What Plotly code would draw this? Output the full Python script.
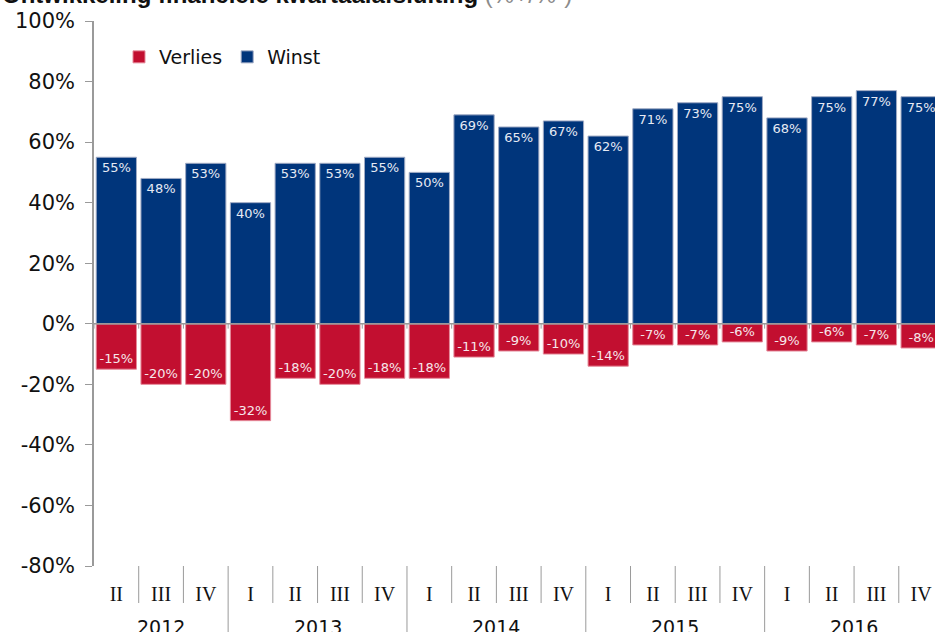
import plotly.graph_objects as go

# Kwartalen 2012 II t/m 2016 IV
years = ["2012"] * 3 + ["2013"] * 4 + ["2014"] * 4 + ["2015"] * 4 + ["2016"] * 4
quarters = ["II", "III", "IV"] + ["I", "II", "III", "IV"] * 4
winst = [55, 48, 53, 40, 53, 53, 55, 50, 69, 65, 67, 62, 71, 73, 75, 68, 75, 77, 75]
verlies = [-15, -20, -20, -32, -18, -20, -18, -18, -11, -9, -10, -14, -7, -7, -6, -9, -6, -7, -8]
y_ticks = [100, 80, 60, 40, 20, 0, -20, -40, -60, -80]

BLUE = "#00357B"
RED = "#C20F30"
GREY = "#9A9A9A"
PLOT_H = 545  # px height of plot area
PLOT_W = 841  # px width of plot area

cats = [f"{q} {y}" for q, y in zip(quarters, years)]

fig = go.Figure()

fig.add_trace(go.Bar(
    x=cats, y=verlies, name="Verlies",
    marker=dict(color=RED, line=dict(color="#E58A9A", width=1)),
    text=[f"{v}%" for v in verlies],
    textposition="inside", insidetextanchor="end", textangle=0,
    textfont=dict(family="DejaVu Sans", size=13, color="#F6E6EA"),
))
fig.add_trace(go.Bar(
    x=cats, y=winst, name="Winst",
    marker=dict(color=BLUE, line=dict(color="#9FAAC4", width=1)),
    text=[f"{v}%" for v in winst],
    textposition="inside", insidetextanchor="end", textangle=0,
    textfont=dict(family="DejaVu Sans", size=13, color="#E6EAF4"),
))

# last quarter is cut off by the right edge, as in the source image
x_range = [-0.5, 18.31]

# zero line with small ticks at category boundaries
fig.add_shape(type="line", xref="paper", yref="y", x0=0, x1=1, y0=0, y1=0,
              line=dict(color=GREY, width=1.5), layer="above")
for i in range(len(cats)):
    fig.add_shape(type="line", xref="x", yref="y", x0=i - 0.5, x1=i - 0.5, y0=0, y1=-1.6,
                  line=dict(color=GREY, width=1), layer="above")

# quarter separators below the axis, longer ones between years
for i in range(1, len(cats)):
    new_year = years[i] != years[i - 1]
    fig.add_shape(type="line", xref="x", yref="paper", x0=i - 0.5, x1=i - 0.5,
                  y0=0, y1=-0.2 if new_year else -37 / PLOT_H,
                  line=dict(color=GREY, width=1))

for yr in dict.fromkeys(years):
    idx = [i for i, v in enumerate(years) if v == yr]
    fig.add_annotation(x=(idx[0] + idx[-1]) / 2, y=-61 / PLOT_H, xref="x", yref="paper",
                       text=yr, showarrow=False, yanchor="middle",
                       font=dict(family="DejaVu Sans", size=19, color="#111111"))

# title (cropped at top in reference)
fig.add_annotation(
    x=-94 / PLOT_W, y=1 + 11 / PLOT_H, xref="paper", yref="paper", xanchor="left", yanchor="bottom",
    text="<b>Ontwikkeling financiële kwartaalafsluiting</b> <span style='color:#8C8C8C'>(%+/%-)</span>",
    showarrow=False, font=dict(family="Liberation Sans", size=24, color="#111111"),
)

fig.update_layout(
    width=935, height=632,
    margin=dict(l=94, r=0, t=21, b=66),
    paper_bgcolor="white", plot_bgcolor="white",
    barmode="relative", bargap=0.1,
    uniformtext=dict(minsize=13, mode="show"),
    showlegend=True,
    legend=dict(orientation="h", x=25 / PLOT_W, y=1 - 36 / PLOT_H, xanchor="left", yanchor="middle",
                font=dict(family="DejaVu Sans", size=19, color="#111111"),
                traceorder="normal", itemwidth=30, bgcolor="rgba(0,0,0,0)"),
    xaxis=dict(
        type="category", range=x_range, automargin=False,
        ticks="", tickvals=cats, ticktext=quarters, ticklabelstandoff=14,
        tickfont=dict(family="Liberation Serif", size=20, color="#111111"),
        showline=False, showgrid=False, zeroline=False,
    ),
    yaxis=dict(
        range=[-80, 100], tickvals=y_ticks, ticktext=[f"{v}%" for v in y_ticks],
        automargin=False, ticks="outside", ticklen=7, tickcolor=GREY,
        showline=True, linecolor=GREY, linewidth=1.5,
        showgrid=False, zeroline=False, ticklabelstandoff=6,
        tickfont=dict(family="DejaVu Sans", size=21, color="#111111"),
    ),
)

# drop the default page margin so the figure sits at the window's top-left corner
fig.write_html("out.html", config={"displayModeBar": False},
               post_script="document.body.style.margin = '0';")
